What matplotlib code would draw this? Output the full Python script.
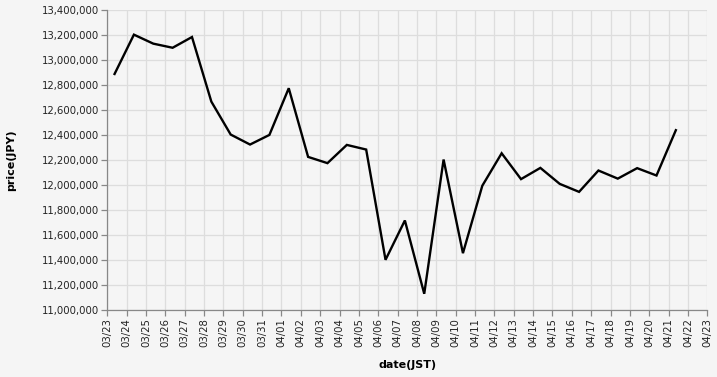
import matplotlib
matplotlib.use("Agg")
import matplotlib.pyplot as plt
import matplotlib.dates as mdates
from matplotlib.ticker import FuncFormatter, MultipleLocator
import numpy as np
import datetime as dt

dates = (["2024-03-%02d" % d for d in range(23, 32)] +
         ["2024-04-%02d" % d for d in range(1, 22)])
prices = [12890000, 13205000, 13133000, 13100000, 13186000, 12669000, 12405000,
          12325000, 12402000, 12776000, 12226000, 12176000, 12322000, 12285000,
          11402000, 11717000, 11130000, 12205000, 11455000, 11995000, 12255000,
          12048000, 12138000, 12010000, 11946000, 12117000, 12052000, 12136000,
          12077000, 12440000]
x_start = "2024-03-23"
x_end = "2024-04-23"
y_min, y_max, y_step = 11000000, 13400000, 200000

bg = "#f5f5f5"
fig = plt.figure(figsize=(7.17, 3.77), dpi=100, facecolor=bg)
ax = fig.add_axes([107.3/717, 1-310/377, 600/717, (310-10.3)/377], facecolor=bg)

xs = [dt.datetime.strptime(d, "%Y-%m-%d") + dt.timedelta(hours=9) for d in dates]
ax.plot(xs, prices, color="black", lw=1.7, solid_joinstyle="miter", zorder=3)

ax.set_xlim(dt.datetime.strptime(x_start, "%Y-%m-%d"), dt.datetime.strptime(x_end, "%Y-%m-%d"))
ax.set_ylim(y_min, y_max)
ax.xaxis.set_major_locator(mdates.DayLocator())
ax.xaxis.set_major_formatter(mdates.DateFormatter("%m/%d"))
ax.yaxis.set_major_locator(MultipleLocator(y_step))
ax.yaxis.set_major_formatter(FuncFormatter(lambda v, p: f"{int(round(v)):,}"))

ax.grid(True, color="#dddddd", lw=0.9, zorder=0)
for s in ["top", "right"]:
    ax.spines[s].set_visible(False)
for s in ["left", "bottom"]:
    ax.spines[s].set_color("#888888")
    ax.spines[s].set_linewidth(0.9)
ax.tick_params(axis="both", colors="#888888", length=4, width=0.9, labelcolor="#222222", labelsize=7.3, pad=2)
plt.setp(ax.get_xticklabels(), rotation=90)

ax.set_xlabel("date(JST)", fontsize=8, fontweight="bold", labelpad=9)
ax.set_ylabel("price(JPY)", fontsize=8, fontweight="bold", labelpad=18)

fig.savefig("out.png", dpi=100, facecolor=bg)
